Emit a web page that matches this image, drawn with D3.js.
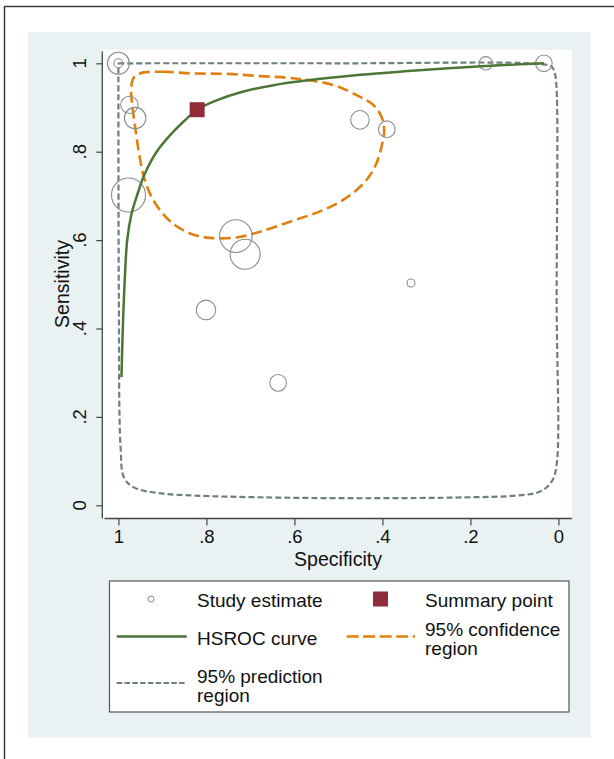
<!DOCTYPE html>
<html>
<head>
<meta charset="utf-8">
<script src="https://cdn.jsdelivr.net/npm/d3@7"></script>
<style>
  body { margin: 0; background: #fff; }
  svg text { font-family: "Liberation Sans", Arial, sans-serif; fill: #111; }
</style>
</head>
<body>
<div id="chart"></div>
<script>
// study estimates (specificity, sensitivity, weight)
const studySpec = [1.000, 1.000, 0.975, 0.962, 0.977, 0.733, 0.712, 0.801, 0.637, 0.451, 0.390, 0.165, 0.033, 0.335];
const studySens = [1.000, 1.000, 0.906, 0.876, 0.702, 0.609, 0.568, 0.442, 0.277, 0.872, 0.851, 1.000, 1.000, 0.503];
const studyWeight = [42, 7, 26, 40, 100, 92, 78, 33, 24, 30, 24, 15.5, 24, 5.5];

// summary point
const summarySpec = 0.821;
const summarySens = 0.895;

// HSROC curve
const hsrocSpec = [0.993, 0.990, 0.986, 0.980, 0.970, 0.958, 0.940, 0.913, 0.880, 0.850, 0.821, 0.780, 0.720, 0.650, 0.565, 0.450, 0.350, 0.250, 0.165, 0.100, 0.033];
const hsrocSens = [0.290, 0.400, 0.500, 0.600, 0.660, 0.700, 0.750, 0.800, 0.840, 0.870, 0.895, 0.915, 0.935, 0.950, 0.962, 0.974, 0.982, 0.989, 0.994, 0.997, 1.000];

// 95% confidence region
const confSpec = [0.951, 0.899, 0.831, 0.754, 0.678, 0.603, 0.512, 0.451, 0.421, 0.402, 0.396, 0.402, 0.417, 0.443, 0.489, 0.542, 0.603, 0.678, 0.731, 0.792, 0.837, 0.883, 0.921, 0.942, 0.953, 0.961, 0.968, 0.971, 0.966];
const confSens = [0.977, 0.981, 0.977, 0.976, 0.971, 0.966, 0.951, 0.924, 0.906, 0.879, 0.849, 0.811, 0.766, 0.728, 0.691, 0.665, 0.644, 0.619, 0.606, 0.605, 0.615, 0.643, 0.691, 0.743, 0.796, 0.849, 0.902, 0.940, 0.966];

// 95% prediction region
const predSpec = [1.000, 0.500, 0.038, 0.015, 0.008, 0.004, 0.004, 0.004, 0.015, 0.042, 0.096, 0.211, 0.442, 0.672, 0.826, 0.902, 0.964, 0.987, 0.995, 0.999, 1.000];
const predSens = [1.000, 1.000, 0.998, 0.992, 0.977, 0.940, 0.464, 0.092, 0.054, 0.031, 0.022, 0.018, 0.016, 0.018, 0.022, 0.027, 0.040, 0.062, 0.131, 0.464, 1.000];

const tickVals = [1, 0.8, 0.6, 0.4, 0.2, 0];

const green = "#4c7636", orange = "#e0800f", slate = "#6f7f80", circ = "#8c8c8c", maroon = "#8f2d3b";

const svg = d3.select("#chart").append("svg")
  .attr("width", 614).attr("height", 759);

// outer frame and panel
svg.append("rect").attr("x", 4.5).attr("y", 6.5).attr("width", 700).attr("height", 800)
  .attr("fill", "#fff").attr("stroke", "#333").attr("stroke-width", 1.4);
svg.append("rect").attr("x", 28).attr("y", 32).attr("width", 563).attr("height", 706)
  .attr("fill", "#e9f1f3");

// plot region
const plot = { left: 103, right: 572, top: 50, bottom: 518.5 };
svg.append("rect").attr("x", plot.left).attr("y", plot.top)
  .attr("width", plot.right - plot.left).attr("height", plot.bottom - plot.top)
  .attr("fill", "#fff");

const x = d3.scaleLinear().domain([1, 0]).range([118.4, 558.4]);
const y = d3.scaleLinear().domain([0, 1]).range([505.3, 63.3]);

const fmt = d => (d === 0 || d === 1) ? String(d) : String(d).replace(/^0/, "");

// axes
const xAxis = svg.append("g").attr("transform", "translate(0," + plot.bottom + ")")
  .call(d3.axisBottom(x).tickValues(tickVals).tickFormat(fmt).tickSize(7).tickPadding(4));
xAxis.select(".domain").remove();
xAxis.selectAll("line").attr("stroke", "#444").attr("stroke-width", 1.2);
xAxis.selectAll("text").attr("font-size", 18.5).attr("fill", "#111");
svg.append("line").attr("x1", 104.5).attr("x2", plot.right).attr("y1", plot.bottom).attr("y2", plot.bottom)
  .attr("stroke", "#444").attr("stroke-width", 1.3);

const yAxis = svg.append("g").attr("transform", "translate(" + 102.3 + ",0)")
  .call(d3.axisLeft(y).tickValues(tickVals).tickFormat("").tickSize(6));
yAxis.select(".domain").remove();
yAxis.selectAll("line").attr("stroke", "#444").attr("stroke-width", 1.2);
svg.append("line").attr("x1", 102.3).attr("x2", 102.3).attr("y1", 51.5).attr("y2", plot.bottom)
  .attr("stroke", "#444").attr("stroke-width", 1.3);
svg.append("g").selectAll("text").data(tickVals).join("text")
  .attr("transform", d => "translate(86," + y(d) + ") rotate(-90)")
  .attr("text-anchor", "middle").attr("font-size", 18.5)
  .text(fmt);

// axis titles
svg.append("text").attr("x", 338).attr("y", 566).attr("text-anchor", "middle")
  .attr("font-size", 19.5).text("Specificity");
svg.append("text").attr("transform", "translate(69,284) rotate(-90)")
  .attr("text-anchor", "middle").attr("font-size", 19.5).text("Sensitivity");

// prediction region
const predPts = predSpec.map((s, i) => [x(s), y(predSens[i])]);
svg.append("path").attr("d", d3.line().curve(d3.curveCatmullRom.alpha(0.5))(predPts))
  .attr("fill", "none").attr("stroke", slate).attr("stroke-width", 2.2)
  .attr("stroke-dasharray", "6,3");

// confidence region
const confPts = confSpec.map((s, i) => [x(s), y(confSens[i])]);
svg.append("path").attr("d", d3.line().curve(d3.curveCatmullRomClosed.alpha(0.5))(confPts))
  .attr("fill", "none").attr("stroke", orange).attr("stroke-width", 2.6)
  .attr("stroke-dasharray", "11,5");

// study circles
const r = d3.scaleSqrt().domain([0, 100]).range([0, 17]);
svg.append("g").selectAll("circle").data(studySpec).join("circle")
  .attr("cx", d => x(d)).attr("cy", (d, i) => y(studySens[i]))
  .attr("r", (d, i) => r(studyWeight[i]))
  .attr("fill", "none").attr("stroke", circ).attr("stroke-width", 1.1);

// HSROC curve
const hsPts = hsrocSpec.map((s, i) => [x(s), y(hsrocSens[i])]);
svg.append("path").attr("d", d3.line().curve(d3.curveCatmullRom.alpha(0.5))(hsPts))
  .attr("fill", "none").attr("stroke", green).attr("stroke-width", 2.5);

// summary point
svg.append("rect").attr("x", x(summarySpec) - 7.5).attr("y", y(summarySens) - 7.5)
  .attr("width", 15).attr("height", 15).attr("fill", maroon);

// legend
const lg = svg.append("g");
lg.append("rect").attr("x", 109.5).attr("y", 581).attr("width", 459.5).attr("height", 131)
  .attr("fill", "#fff").attr("stroke", "#555").attr("stroke-width", 1.2);
lg.append("circle").attr("cx", 151).attr("cy", 599).attr("r", 3)
  .attr("fill", "none").attr("stroke", circ).attr("stroke-width", 1);
lg.append("rect").attr("x", 373).attr("y", 591.5).attr("width", 15).attr("height", 15).attr("fill", maroon);
lg.append("line").attr("x1", 116.7).attr("x2", 186.7).attr("y1", 636.5).attr("y2", 636.5)
  .attr("stroke", green).attr("stroke-width", 2.5);
lg.append("line").attr("x1", 346.7).attr("x2", 415).attr("y1", 636.5).attr("y2", 636.5)
  .attr("stroke", orange).attr("stroke-width", 2.6).attr("stroke-dasharray", "12,4.5");
lg.append("line").attr("x1", 116.7).attr("x2", 186.7).attr("y1", 683).attr("y2", 683)
  .attr("stroke", slate).attr("stroke-width", 2).attr("stroke-dasharray", "5.5,2.3");

const legendText = [
  { x: 197, y: 606.5, t: "Study estimate" },
  { x: 425, y: 606.5, t: "Summary point" },
  { x: 197, y: 645, t: "HSROC curve" },
  { x: 425, y: 635.5, t: "95% confidence" },
  { x: 425, y: 654.5, t: "region" },
  { x: 197, y: 682.5, t: "95% prediction" },
  { x: 197, y: 701.5, t: "region" }
];
lg.selectAll("text").data(legendText).join("text")
  .attr("x", d => d.x).attr("y", d => d.y).attr("font-size", 19).text(d => d.t);
</script>
</body>
</html>
